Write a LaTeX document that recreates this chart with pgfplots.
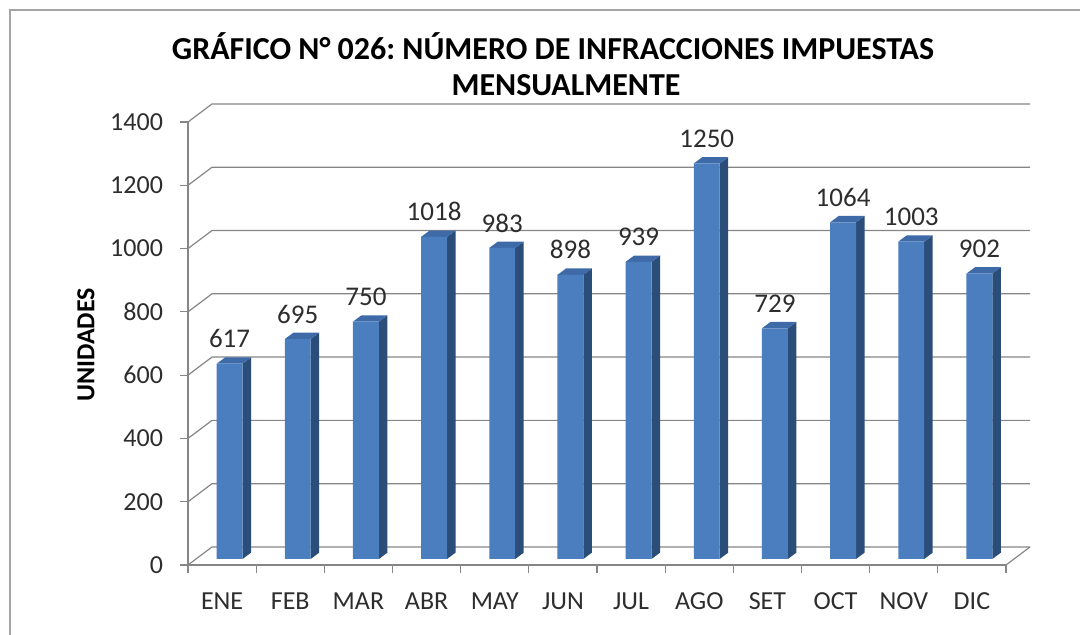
\documentclass[border=0pt]{standalone}
\usepackage{fontspec}
\setmainfont{Carlito}
\usepackage{pgfplots}
\pgfplotsset{compat=1.18}
\usepackage{pgfplotstable}
\definecolor{gridc}{RGB}{134,134,134}
\definecolor{barfront}{RGB}{74,126,191}
\definecolor{barside}{RGB}{42,77,122}
\definecolor{bartop}{RGB}{62,106,168}
\definecolor{txt}{RGB}{45,45,45}
\definecolor{framec}{RGB}{165,165,165}

\pgfplotstableread{
x v
0 617
1 695
2 750
3 1018
4 983
5 898
6 939
7 1250
8 729
9 1064
10 1003
11 902
}\datatable

\begin{document}
\frenchspacing
\begin{tikzpicture}
\path[use as bounding box] (-94pt,-35pt) rectangle (446pt,282.5pt);
\draw[framec, line width=1pt] (-89pt,-36pt) -- (-89pt,277.5pt) -- (447pt,277.5pt);
\node[font=\bfseries\fontsize{16}{18}\selectfont, anchor=base, inner sep=0pt] at (182.5pt,252.5pt)
  {GRÁFICO N° 026: NÚMERO DE INFRACCIONES IMPUESTAS};
\node[font=\bfseries\fontsize{16}{18}\selectfont, anchor=base, inner sep=0pt] at (189pt,234.5pt)
  {MENSUALMENTE};
\node[font=\bfseries\fontsize{13}{15}\selectfont, rotate=90] at (-51pt,110pt) {UNIDADES};
\begin{axis}[
  at={(0pt,0pt)}, anchor=south west,
  scale only axis, width=409pt, height=221.5pt,
  xmin=-0.5, xmax=11.5, ymin=0, ymax=1400,
  clip=false,
  axis x line*=bottom, axis y line*=left,
  axis line style={gridc, line width=0.6pt},
  tick style={gridc, line width=0.6pt},
  tick align=outside,
  major tick length=4pt,
  xtick={-0.5,0.5,...,11.5},
  xticklabels={ENE,FEB,MAR,ABR,MAY,JUN,JUL,AGO,SET,OCT,NOV,DIC,{}},
  ytick={0,200,...,1400},
  /pgf/number format/assume math mode=true,
  /pgf/number format/1000 sep={},
  yticklabel style={font=\fontsize{13}{15}\selectfont, text=txt, anchor=east, xshift=-5pt},
  xticklabel style={font=\fontsize{13}{15}\selectfont, text=txt, anchor=center, xshift=17.05pt, yshift=-14pt},
]
% back wall grid lines and left wall diagonals
\foreach \k in {0,200,400,600,800,1000,1200,1400}{
  \pgfmathsetmacro\kb{\k+57}
  \edef\cmd{\noexpand\draw[gridc, line width=0.6pt] (axis cs:-0.5,\k) -- (axis cs:-0.148,\kb) -- (axis cs:11.852,\kb);}
  \cmd
}
\draw[gridc, line width=0.6pt] (axis cs:11.5,0) -- (axis cs:11.852,57);
% 3D side and top faces of bars
\foreach \i/\v in {0/617,1/695,2/750,3/1018,4/983,5/898,6/939,7/1250,8/729,9/1064,10/1003,11/902}{
  \pgfmathsetmacro\xl{\i-0.08}
  \pgfmathsetmacro\xm{\i+0.045}
  \pgfmathsetmacro\xa{\i+0.30}
  \pgfmathsetmacro\xb{\i+0.425}
  \pgfmathsetmacro\yf{\v+19}
  \pgfmathsetmacro\yb{\v+39}
  \edef\cmd{\noexpand\addplot[fill=barside, draw=none] coordinates {(\xa,19) (\xb,39) (\xb,\yb) (\xa,\yf)} -- cycle;
  \noexpand\addplot[fill=bartop, draw=none] coordinates {(\xl,\yf) (\xm,\yb) (\xb,\yb) (\xa,\yf)} -- cycle;}
  \cmd
}
% front faces
\addplot[ybar, bar width=0.38, bar shift=0.11, fill=barfront, draw=none, yshift=3.006pt]
  table[x=x, y=v]{\datatable};
% value labels
\addplot[draw=none, mark=none, nodes near coords, point meta=explicit,
  every node near coord/.append style={anchor=center, yshift=12.5pt,
    font=\fontsize{13.5}{15}\selectfont, text=txt}]
  table[x expr=\thisrow{x}+0.11, y expr=\thisrow{v}+19, meta=v]{\datatable};
\end{axis}
\end{tikzpicture}
\end{document}
